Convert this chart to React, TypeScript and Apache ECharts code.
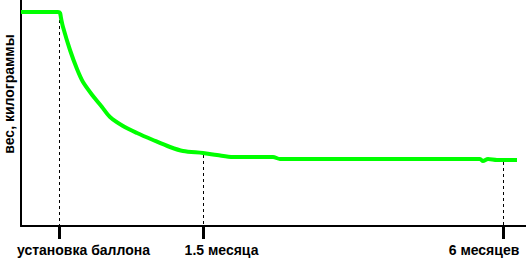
import React, { useEffect, useRef } from "react";
import * as echarts from "echarts";

// time axis in arbitrary units (0 = left edge of plot), weight in arbitrary units (0 = axis)
const timeValues = [0, 20, 37, 39, 40, 42, 49, 56, 62, 72, 81, 89, 102, 116, 132, 149, 162, 182, 196, 212, 252, 259, 459, 462, 467, 476, 496];
const weightValues = [214, 214, 214, 213, 208, 199, 176, 157, 144, 130, 119, 109, 100, 93, 86, 79, 75, 73, 71, 69, 69, 67, 67, 65, 67, 66, 66];

const eventTicks = [38, 182, 482];
const eventLabels = ["установка баллона", "1.5 месяца", "6 месяцев"];
const eventLabelPositions = [62.5, 200.5, 463];
const eventWeights = [214, 73, 66];

const yAxisTitle = "вес, килограммы";

export default function App() {
  const ref = useRef<HTMLDivElement>(null);
  useEffect(() => {
    const chart = echarts.init(ref.current!, null, { renderer: "svg" });
    const font = "'Liberation Sans', Arial, sans-serif";
    chart.setOption({
      animation: false,
      grid: { left: 21, top: 0, right: 0, bottom: 39 },
      xAxis: {
        type: "value",
        min: 0,
        max: 505,
        axisLine: { show: true, lineStyle: { color: "#000", width: 2 } },
        splitLine: { show: false },
        axisTick: {
          show: true,
          customValues: eventTicks,
          length: 13,
          lineStyle: { color: "#000", width: 3 },
        },
        axisLabel: {
          show: true,
          customValues: eventLabelPositions,
          formatter: (v: number) => {
            const i = eventLabelPositions.indexOf(v);
            return i >= 0 ? eventLabels[i] : "";
          },
          margin: 17,
          color: "#000",
          fontWeight: "bold",
          fontSize: 14,
          fontFamily: font,
        },
      },
      yAxis: {
        type: "value",
        min: 0,
        max: 226,
        axisLine: { show: true, lineStyle: { color: "#000", width: 2 } },
        axisTick: { show: false },
        axisLabel: { show: false },
        splitLine: { show: false },
      },
      graphic: [
        {
          type: "text",
          x: 9,
          y: 94,
          rotation: Math.PI / 2,
          style: {
            text: yAxisTitle,
            fill: "#000",
            font: `bold 14px ${font}`,
            align: "center",
            verticalAlign: "middle",
          },
        },
      ],
      series: [
        {
          type: "line",
          data: timeValues.map((t, i) => [t, weightValues[i]]),
          showSymbol: false,
          smooth: 0.3,
          lineStyle: { color: "#00ff00", width: 4 },
          z: 3,
          markLine: {
            silent: true,
            symbol: "none",
            label: { show: false },
            lineStyle: { color: "#000", type: [3, 3], width: 1 },
            data: eventTicks.map((t, i) => [
              { coord: [t, eventWeights[i] - 2] },
              { coord: [t, 0] },
            ]),
            z: 1,
          },
        },
      ],
    });
    return () => chart.dispose();
  }, []);
  return (
    <div
      ref={ref}
      style={{ position: "fixed", left: 0, top: 0, width: 526, height: 265, background: "#fff" }}
    />
  );
}
